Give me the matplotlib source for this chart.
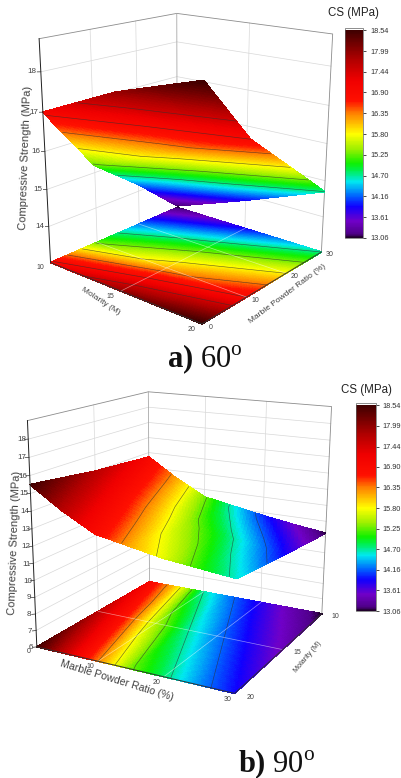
import numpy as np
import matplotlib
matplotlib.use("Agg")
import matplotlib.pyplot as plt
from matplotlib.colors import LinearSegmentedColormap, Normalize
from matplotlib.cm import ScalarMappable
from contourpy import contour_generator

plt.rcParams['font.family'] = ['Liberation Sans', 'DejaVu Sans']
plt.rcParams['mathtext.fontset'] = 'custom'
plt.rcParams['mathtext.rm'] = 'Liberation Serif'
plt.rcParams['mathtext.bf'] = 'Liberation Serif:bold'

W, H = 402, 778

# data (rows = molarity, columns = marble powder ratio)
molarity = [10, 15, 20]
mpr_a = [0, 10, 20, 30]
cs_a = [[17.0, 15.2, 14.2, 13.06],
        [17.9, 16.1, 15.0, 13.85],
        [18.54, 16.9, 15.8, 14.7]]

mpr_b = [0, 5, 10, 15, 20, 25, 30]
height_b = [[14.7, 13.5, 12.5, 12.15, 11.8, 11.5, 11.25],
            [15.0, 13.9, 12.9, 12.55, 12.2, 11.95, 11.7],
            [15.5, 14.3, 13.3, 12.95, 12.6, 12.4, 12.2]]
color_b = [[17.0, 16.2, 15.3, 14.6, 14.0, 13.5, 13.06],
           [17.7, 16.9, 16.1, 15.45, 14.95, 14.4, 13.85],
           [18.54, 17.7, 16.9, 16.2, 15.7, 15.1, 14.6]]
floor_b = [[17.0, 16.0, 14.7, 14.2, 13.8, 13.4, 13.06],
           [17.7, 16.7, 15.5, 14.75, 14.25, 13.85, 13.45],
           [18.54, 17.5, 16.35, 15.3, 14.8, 14.3, 13.9]]

cbar_ticks = [13.06, 13.61, 14.16, 14.70, 15.25, 15.80, 16.35, 16.90, 17.44, 17.99, 18.54]
line_levels_a = [14.70, 15.25, 15.80, 16.35, 16.90, 17.44]
line_levels_b = [14.16, 14.70, 15.25, 15.80, 16.35]

z_ticks_a = [14, 15, 16, 17, 18]
z_ticks_b = [6, 7, 8, 9, 10, 11, 12, 13, 14, 15, 16, 17, 18]

# elev, azim, roll, focal length, box aspect, then scale and offset in pixels
view_a = (17.765, -50.308, -0.067, 0.458, 0.870, 0.875, 1.010, 1918.8, 188.0, 151.2)
view_b = (15.891, -62.002, -0.286, 0.474, 0.953, 0.976, 0.995, 2000.6, 186.4, 524.9)

cmap = LinearSegmentedColormap.from_list("cs", [
    (0.0, "#20002a"), (0.02, "#50008a"), (0.08, "#7000c8"), (0.15, "#1000ff"),
    (0.2, "#0060ff"), (0.27, "#00e8f0"), (0.33, "#00f040"), (0.36, "#10f000"),
    (0.43, "#a0f000"), (0.5, "#ffff00"), (0.6, "#ff8000"), (0.66, "#ff1000"),
    (0.76, "#f00000"), (0.86, "#b00000"), (1.0, "#400000")])
norm = Normalize(13.06, 18.54)


def bilinear(xs, ys, table, px, py):
    xs, ys, table = np.asarray(xs, float), np.asarray(ys, float), np.asarray(table, float)
    i = np.clip(np.searchsorted(xs, px) - 1, 0, len(xs) - 2)
    j = np.clip(np.searchsorted(ys, py) - 1, 0, len(ys) - 2)
    tx = (px - xs[i]) / (xs[i + 1] - xs[i])
    ty = (py - ys[j]) / (ys[j + 1] - ys[j])
    return (table[j, i] * (1 - tx) * (1 - ty) + table[j, i + 1] * tx * (1 - ty)
            + table[j + 1, i] * (1 - tx) * ty + table[j + 1, i + 1] * tx * ty)


def place(ax, s, tx, ty):
    x0, x1 = ax.viewLim.intervalx
    y0, y1 = ax.viewLim.intervaly
    left = tx + s * x0
    bottom = H - ty + s * y0
    ax.set_position([left / W, bottom / H, s * (x1 - x0) / W, s * (y1 - y0) / H])


def px_text(x, y, s, **kw):
    kw.setdefault("ha", "center")
    kw.setdefault("va", "center")
    return plt.gcf().text(x / W, 1 - y / H, s, **kw)


def draw_panel(ax, mpr, height, color, floor, swap, zlim, z_ticks, levels, view, mol_rot, mpr_rot, z_off):
    mol = molarity
    if swap:
        to_xyz = lambda m, p, z: (m, p, z)
        ax.set_xlim(10, 20); ax.set_ylim(0, 30)
    else:
        to_xyz = lambda m, p, z: (p, m, z)
        ax.set_xlim(0, 30); ax.set_ylim(20, 10)
    ax.set_zlim(*zlim)
    # frame and tick labels are drawn by hand below
    ax.set_xticks([]); ax.set_yticks([]); ax.set_zticks([])
    ax.set_axis_off()
    ax.view_init(view[0], view[1], view[2])
    ax.set_proj_type('persp', focal_length=view[3])
    ax.set_box_aspect(view[4:7])
    ax.computed_zorder = False
    place(ax, view[7], view[8], view[9])
    x0, x1 = ax.get_xlim(); y0, y1 = ax.get_ylim()
    zb, zt = zlim
    gc, gw = "#d8d8d8", 0.5

    # walls
    for z in z_ticks:
        ax.plot([x0, x0, x1], [y0, y1, y1], [z, z, z], color=gc, lw=gw, zorder=0)
    wall = to_xyz(15, 30, 0) if swap else to_xyz(15, 0, 0)
    ax.plot([wall[0]] * 2, [wall[1]] * 2, [zb, zt], color=gc, lw=gw, zorder=0)
    for v in [10, 20]:
        wall = to_xyz(10, v, 0)
        ax.plot([wall[0]] * 2, [wall[1]] * 2, [zb, zt], color=gc, lw=gw, zorder=0)
    ax.plot([x0, x0, x1, x1], [y0, y1, y1, y1], [zt, zt, zt, zb], color="#8c8c8c", lw=0.6, zorder=0)
    ax.plot([x0, x0], [y1, y1], [zb, zt], color="#a8a8a8", lw=0.6, zorder=0)
    ax.plot([x0, x0], [y0, y0], [zb, zt], color="#202020", lw=0.7, zorder=5)
    ax.plot([x0, x1, x1], [y0, y0, y1], [zb, zb, zb], color="#303030", lw=0.7, zorder=5)

    fp = np.linspace(0, 30, 121)
    fm = np.linspace(10, 20, 61)
    PP, MM = np.meshgrid(fp, fm)
    cc = bilinear(mpr, mol, color, PP.ravel(), MM.ravel()).reshape(PP.shape)
    ff = bilinear(mpr, mol, floor, PP.ravel(), MM.ravel()).reshape(PP.shape)
    hh = bilinear(mpr, mol, height, PP.ravel(), MM.ravel()).reshape(PP.shape)
    X, Y, _ = to_xyz(MM, PP, 0)
    ax.plot_surface(X, Y, np.full_like(X, zb), facecolors=cmap(norm(ff)), rstride=1, cstride=1,
                    shade=False, linewidth=0.5, antialiased=False, zorder=1)
    ax.plot_surface(X, Y, hh, facecolors=cmap(norm(cc)), rstride=1, cstride=1,
                    shade=False, linewidth=0.5, antialiased=False, zorder=3)

    # contour lines
    for table, on_floor in ((floor, True), (color, False)):
        gen = contour_generator(np.asarray(mpr, float), np.asarray(mol, float), np.asarray(table, float))
        for lev in levels:
            for seg in gen.lines(lev):
                if on_floor:
                    z = np.full(len(seg), zb)
                    zo = 2
                else:
                    z = bilinear(mpr, mol, height, seg[:, 0], seg[:, 1])
                    zo = 4
                a, b, c = to_xyz(seg[:, 1], seg[:, 0], z)
                ax.plot(a, b, c, color="#303030", lw=0.45, alpha=0.7, zorder=zo)

    # floor grid over the colours
    for v in [10, 20]:
        a = to_xyz(10, v, zb); b = to_xyz(20, v, zb)
        ax.plot([a[0], b[0]], [a[1], b[1]], [zb, zb], color="#ffffff", lw=0.5, alpha=0.5, zorder=2)
    a = to_xyz(15, 0, zb); b = to_xyz(15, 30, zb)
    ax.plot([a[0], b[0]], [a[1], b[1]], [zb, zb], color="#ffffff", lw=0.5, alpha=0.5, zorder=2)

    # tick labels
    dx, dy = x1 - x0, y1 - y0
    for z in z_ticks:
        ax.plot([x0, x0 - 0.012 * dx], [y0, y0 - 0.012 * dy], [z, z], color="#303030", lw=0.5, zorder=5)
        ax.text(x0 - z_off * dx, y0 - z_off * dy, z, str(z), fontsize=5.8, color="#404040",
                ha="center", va="center")
    for m, lab in ((10, "10"), (15, "15"), (20, "20")):
        if swap:
            q = to_xyz(m, 0, zb)
            ax.text(q[0], q[1] - 0.07 * dy, zb, lab, fontsize=5, rotation=mol_rot, color="#404040", ha="center", va="center")
        else:
            q = to_xyz(m, 30, zb)
            ax.text(q[0] + 0.07 * dx, q[1], zb, lab, fontsize=5, rotation=mol_rot, color="#404040", ha="center", va="center")
    for v, lab in ((0, "0"), (10, "10"), (20, "20"), (30, "30")):
        q = to_xyz(20, v, zb)
        if swap:
            ax.text(q[0] + 0.05 * dx, q[1], zb, lab, fontsize=5, rotation=mpr_rot, color="#404040", ha="center", va="center")
        else:
            ax.text(q[0], q[1] - 0.06 * dy, zb, lab, fontsize=5, rotation=mpr_rot, color="#404040", ha="center", va="center")


def add_cbar(fig, left, top, w, h, label_xy, pad):
    cax = fig.add_axes([left / W, 1 - (top + h) / H, w / W, h / H])
    cb = fig.colorbar(ScalarMappable(norm, cmap), cax=cax, ticks=cbar_ticks)
    cb.ax.set_ylim(13.06, 18.60)
    cb.ax.set_yticklabels([f"{t:.2f}" for t in cbar_ticks], fontsize=5.3, color="#303030")
    cb.ax.tick_params(length=2.5, width=0.5, pad=pad)
    cb.outline.set_linewidth(0.5)
    cb.outline.set_edgecolor("#606060")
    px_text(label_xy[0], label_xy[1], "CS (MPa)", fontsize=8.3, color="#222222")


fig = plt.figure(figsize=(W / 100, H / 100), dpi=100)
ax_a = fig.add_axes([0, 0.5, 0.9, 0.45], projection="3d")
ax_b = fig.add_axes([0, 0.0, 0.9, 0.45], projection="3d")

draw_panel(ax_a, mpr_a, cs_a, cs_a, cs_a, True, (13.0, 18.8), z_ticks_a, line_levels_a, view_a, 35, -35, 0.03)
draw_panel(ax_b, mpr_b, height_b, color_b, floor_b, False, (6.0, 19.0), z_ticks_b, line_levels_b, view_b, -12, 75, 0.02)

add_cbar(fig, 345, 28, 18, 210, (353, 13), 2.5)
add_cbar(fig, 356, 403, 20, 208, (366, 390), 2)

cap = dict(color="#111111", fontsize=22, family="Liberation Serif")
px_text(205, 359, r"$\mathbf{a)}$ 60$^{\mathrm{o}}$", **cap)
px_text(277, 764, r"$\mathbf{b)}$ 90$^{\mathrm{o}}$", **cap)

lab = dict(color="#404040")
px_text(26, 158, "Compressive Strength (MPa)", fontsize=8, rotation=88, **lab)
px_text(15, 543, "Compressive Strength (MPa)", fontsize=8, rotation=88, **lab)
px_text(101, 301, "Molarity (M)", fontsize=6, rotation=-33, **lab)
px_text(287, 294, "Marble Powder Ratio (%)", fontsize=6, rotation=37, **lab)
px_text(117, 680, "Marble Powder Ratio (%)", fontsize=7.6, rotation=-17, **lab)
px_text(308, 657, "Molarity (M)", fontsize=5.2, rotation=50, **lab)

fig.savefig("out.png", dpi=100)
